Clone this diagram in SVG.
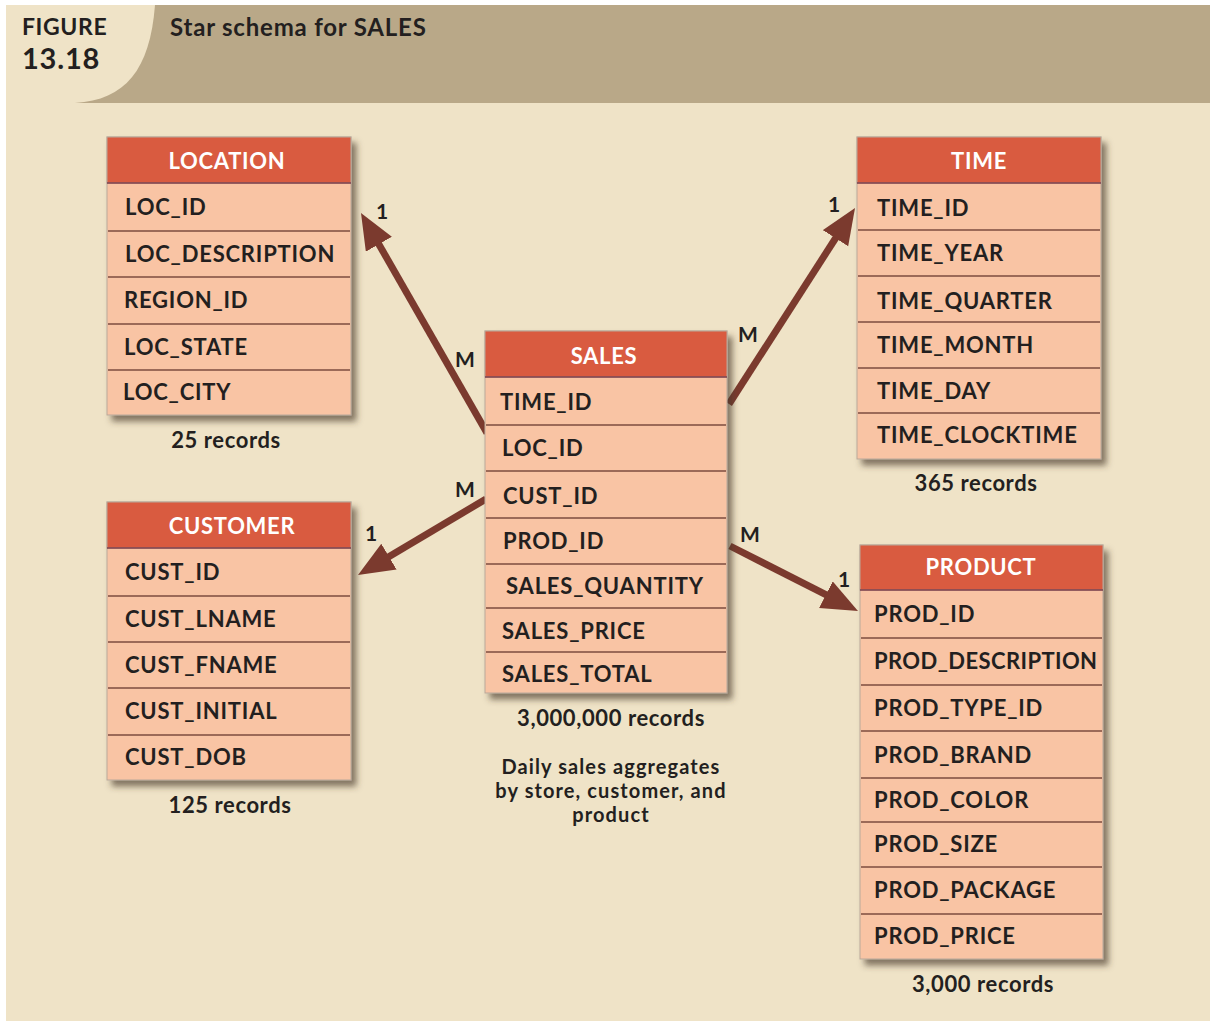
<svg xmlns="http://www.w3.org/2000/svg" width="1210" height="1024" viewBox="0 0 1210 1024">
  <defs>
    <filter id="shadow" x="-10%" y="-10%" width="130%" height="130%">
      <feDropShadow dx="5" dy="6" stdDeviation="3" flood-color="#4a3a2c" flood-opacity="0.65"/>
    </filter>
    <marker id="head" markerUnits="userSpaceOnUse" markerWidth="40" markerHeight="32" refX="11" refY="15" orient="auto">
      <path d="M0,0 L36,15 L0,30 Z" fill="#7b3a2e"/>
    </marker>
  </defs>
  <style>
    text { font-family: Lato, "Open Sans", "DejaVu Sans", sans-serif; font-weight: bold; fill: #231f20; }
    .hdr { fill: #d95b40; stroke: #b9a99a; stroke-width: 1; }
    .row { fill: #f9c4a4; stroke: #b9a99a; stroke-width: 1; }
    .div { stroke: #9c6a58; stroke-width: 2; }
    .hl { stroke: #7d3e4a; stroke-width: 1.5; }
    .title { fill: #ffffff; font-size: 22px; text-anchor: middle; letter-spacing: 0.7px; }
    .fld { font-size: 22px; letter-spacing: 0.8px; }
    .note { font-size: 22px; text-anchor: middle; letter-spacing: 0.6px; }
    .desc { font-size: 20px; text-anchor: middle; letter-spacing: 1.1px; }
    .card { font-size: 21px; }
    .link { stroke: #7b3a2e; stroke-width: 7; fill: none; marker-end: url(#head); }
  </style>

  <!-- page -->
  <rect x="0" y="0" width="1210" height="1024" fill="#ffffff"/>
  <rect x="6" y="5" width="1204" height="1016" fill="#efe3c7"/>

  <!-- title band -->
  <rect x="6" y="5" width="1204" height="98" fill="#b9a888"/>
  <path d="M6,5 L155,5 C150,70 125,100 75,103 L6,103 Z" fill="#efe3c7"/>
  <text x="22" y="35" style="font-size:23px;letter-spacing:0.6px">FIGURE</text>
  <text x="22" y="69" style="font-size:29px;letter-spacing:0.8px">13.18</text>
  <text x="170" y="36" style="font-size:24px;letter-spacing:0.8px">Star schema for SALES</text>

  <!-- connectors -->
  <g id="connectors">
    <line class="link" x1="487" y1="433" x2="373.4" y2="234.7"/>
    <line class="link" x1="729" y1="404" x2="841.5" y2="229"/>
    <line class="link" x1="486" y1="499" x2="379.5" y2="562.2"/>
    <line class="link" x1="730" y1="546" x2="835.7" y2="599.7"/>
    <text class="card" x="376" y="219">1</text>
    <text class="card" x="455" y="367">M</text>
    <text class="card" x="828" y="212">1</text>
    <text class="card" x="738" y="342">M</text>
    <text class="card" x="365" y="541">1</text>
    <text class="card" x="455" y="497">M</text>
    <text class="card" x="838" y="587">1</text>
    <text class="card" x="740" y="542">M</text>
  </g>

  <!-- LOCATION -->
  <g id="location">
    <g filter="url(#shadow)">
      <rect class="row" x="107" y="137" width="244" height="278"/>
    </g>
    <rect class="hdr" x="107" y="137" width="244" height="46"/>
    <line class="hl" x1="107" y1="183" x2="351" y2="183"/>
    <line class="div" x1="108" y1="231" x2="350" y2="231"/>
    <line class="div" x1="108" y1="277" x2="350" y2="277"/>
    <line class="div" x1="108" y1="324" x2="350" y2="324"/>
    <line class="div" x1="108" y1="370" x2="350" y2="370"/>
    <text class="title" x="227" y="169">LOCATION</text>
    <text class="fld" x="125" y="215">LOC_ID</text>
    <text class="fld" x="125" y="262">LOC_DESCRIPTION</text>
    <text class="fld" x="124" y="308">REGION_ID</text>
    <text class="fld" x="124" y="355">LOC_STATE</text>
    <text class="fld" x="123" y="400">LOC_CITY</text>
    <text class="note" x="226" y="448">25 records</text>
  </g>

  <!-- TIME -->
  <g id="time">
    <g filter="url(#shadow)">
      <rect class="row" x="857" y="137" width="244" height="322"/>
    </g>
    <rect class="hdr" x="857" y="137" width="244" height="46"/>
    <line class="hl" x1="857" y1="183" x2="1101" y2="183"/>
    <line class="div" x1="858" y1="230" x2="1100" y2="230"/>
    <line class="div" x1="858" y1="276" x2="1100" y2="276"/>
    <line class="div" x1="858" y1="322" x2="1100" y2="322"/>
    <line class="div" x1="858" y1="368" x2="1100" y2="368"/>
    <line class="div" x1="858" y1="413" x2="1100" y2="413"/>
    <text class="title" x="979" y="169">TIME</text>
    <text class="fld" x="877" y="216">TIME_ID</text>
    <text class="fld" x="877" y="261">TIME_YEAR</text>
    <text class="fld" x="877" y="309">TIME_QUARTER</text>
    <text class="fld" x="877" y="353">TIME_MONTH</text>
    <text class="fld" x="877" y="399">TIME_DAY</text>
    <text class="fld" x="877" y="443">TIME_CLOCKTIME</text>
    <text class="note" x="976" y="491">365 records</text>
  </g>

  <!-- SALES -->
  <g id="sales">
    <g filter="url(#shadow)">
      <rect class="row" x="485" y="331" width="242" height="362"/>
    </g>
    <rect class="hdr" x="485" y="331" width="242" height="46"/>
    <line class="hl" x1="485" y1="377" x2="727" y2="377"/>
    <line class="div" x1="486" y1="425" x2="726" y2="425"/>
    <line class="div" x1="486" y1="471" x2="726" y2="471"/>
    <line class="div" x1="486" y1="518" x2="726" y2="518"/>
    <line class="div" x1="486" y1="564" x2="726" y2="564"/>
    <line class="div" x1="486" y1="608" x2="726" y2="608"/>
    <line class="div" x1="486" y1="652" x2="726" y2="652"/>
    <text class="title" x="604" y="364">SALES</text>
    <text class="fld" x="500" y="410">TIME_ID</text>
    <text class="fld" x="502" y="456">LOC_ID</text>
    <text class="fld" x="503" y="504">CUST_ID</text>
    <text class="fld" x="503" y="549">PROD_ID</text>
    <text class="fld" x="506" y="594">SALES_QUANTITY</text>
    <text class="fld" x="502" y="639">SALES_PRICE</text>
    <text class="fld" x="502" y="682">SALES_TOTAL</text>
    <text class="note" x="611" y="726">3,000,000 records</text>
    <text class="desc" x="611" y="774">Daily sales aggregates</text>
    <text class="desc" x="611" y="798">by store, customer, and</text>
    <text class="desc" x="611" y="822">product</text>
  </g>

  <!-- CUSTOMER -->
  <g id="customer">
    <g filter="url(#shadow)">
      <rect class="row" x="107" y="502" width="244" height="278"/>
    </g>
    <rect class="hdr" x="107" y="502" width="244" height="46"/>
    <line class="hl" x1="107" y1="548" x2="351" y2="548"/>
    <line class="div" x1="108" y1="596" x2="350" y2="596"/>
    <line class="div" x1="108" y1="642" x2="350" y2="642"/>
    <line class="div" x1="108" y1="688" x2="350" y2="688"/>
    <line class="div" x1="108" y1="735" x2="350" y2="735"/>
    <text class="title" x="232" y="534">CUSTOMER</text>
    <text class="fld" x="125" y="580">CUST_ID</text>
    <text class="fld" x="125" y="627">CUST_LNAME</text>
    <text class="fld" x="125" y="673">CUST_FNAME</text>
    <text class="fld" x="125" y="719">CUST_INITIAL</text>
    <text class="fld" x="125" y="765">CUST_DOB</text>
    <text class="note" x="230" y="813">125 records</text>
  </g>

  <!-- PRODUCT -->
  <g id="product">
    <g filter="url(#shadow)">
      <rect class="row" x="860" y="545" width="243" height="414"/>
    </g>
    <rect class="hdr" x="860" y="545" width="243" height="45"/>
    <line class="hl" x1="860" y1="590" x2="1103" y2="590"/>
    <line class="div" x1="861" y1="638" x2="1102" y2="638"/>
    <line class="div" x1="861" y1="685" x2="1102" y2="685"/>
    <line class="div" x1="861" y1="731" x2="1102" y2="731"/>
    <line class="div" x1="861" y1="778" x2="1102" y2="778"/>
    <line class="div" x1="861" y1="822" x2="1102" y2="822"/>
    <line class="div" x1="861" y1="867" x2="1102" y2="867"/>
    <line class="div" x1="861" y1="914" x2="1102" y2="914"/>
    <text class="title" x="981" y="575">PRODUCT</text>
    <text class="fld" x="874" y="622">PROD_ID</text>
    <text class="fld" x="874" y="669" style="letter-spacing:0.4px">PROD_DESCRIPTION</text>
    <text class="fld" x="874" y="716">PROD_TYPE_ID</text>
    <text class="fld" x="874" y="763">PROD_BRAND</text>
    <text class="fld" x="874" y="808">PROD_COLOR</text>
    <text class="fld" x="874" y="852">PROD_SIZE</text>
    <text class="fld" x="874" y="898">PROD_PACKAGE</text>
    <text class="fld" x="874" y="944">PROD_PRICE</text>
    <text class="note" x="983" y="992">3,000 records</text>
  </g>
</svg>
